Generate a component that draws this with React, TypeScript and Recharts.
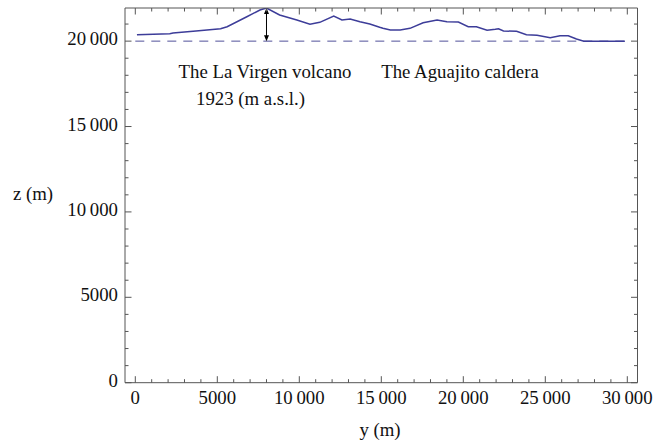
import React from "react";
import {
  LineChart,
  Line,
  XAxis,
  YAxis,
  ReferenceLine,
  Customized,
} from "recharts";

// Horizontal distance along the profile (m)
const yDistance = [
  100, 2100, 2300, 3700, 5200, 5600, 6800, 7600, 8000, 8800, 9850, 10650,
  11250, 12100, 12600, 13100, 13700, 14300, 14900, 15100, 15550, 16150, 16750,
  17550, 18400, 19000, 19700, 20300, 20800, 21450, 21950, 22150, 22450, 23250,
  23850, 24500, 25300, 25900, 26400, 26900, 27350, 29850,
];

// Elevation of the surface (m)
const zElevation = [
  20375, 20434, 20475, 20590, 20727, 20844, 21429, 21822, 21940, 21529, 21236,
  20985, 21102, 21471, 21236, 21295, 21137, 21002, 20809, 20750, 20651, 20651,
  20750, 21078, 21236, 21137, 21119, 20844, 20844, 20634, 20692, 20727, 20592,
  20575, 20375, 20340, 20200, 20317, 20317, 20124, 20000, 20000,
];

const baseLevel = 20000;
const summitY = 8000;
const summitZ = 21940;

const xTicks = Array.from({ length: 31 }, (_, i) => i * 1000);
const yTicks = Array.from({ length: 22 }, (_, i) => i * 1000);

const data = yDistance.map((y, i) => ({ y, z: zElevation[i] }));

const FONT = "'Liberation Serif', 'Times New Roman', serif";
const FONT_SIZE = 18.8;
const AXIS = "#555555";
const LINE = "#3d3d99";

const fmt = (v: number) =>
  v >= 10000 ? `${Math.floor(v / 1000)}\u2009${String(v % 1000).padStart(3, "0")}` : `${v}`;

const BottomTick = (props: any) => {
  const { x, y, payload } = props;
  const major = payload.value % 5000 === 0;
  return (
    <g>
      <line x1={x} y1={y} x2={x} y2={y - (major ? 6.5 : 3.5)} stroke={AXIS} strokeWidth={1} />
      {major && (
        <text x={x} y={y + 21} textAnchor="middle" fontFamily={FONT} fontSize={FONT_SIZE} fill="#111">
          {fmt(payload.value)}
        </text>
      )}
    </g>
  );
};

const TopTick = (props: any) => {
  const { x, y, payload } = props;
  const major = payload.value % 5000 === 0;
  return <line x1={x} y1={y} x2={x} y2={y + (major ? 6.5 : 3.5)} stroke={AXIS} strokeWidth={1} />;
};

const LeftTick = (props: any) => {
  const { x, y, payload } = props;
  const major = payload.value % 5000 === 0;
  return (
    <g>
      <line x1={x} y1={y} x2={x + (major ? 6.5 : 3.5)} y2={y} stroke={AXIS} strokeWidth={1} />
      {major && (
        <text x={x - 7} y={y + 4} textAnchor="end" fontFamily={FONT} fontSize={FONT_SIZE} fill="#111">
          {fmt(payload.value)}
        </text>
      )}
    </g>
  );
};

const RightTick = (props: any) => {
  const { x, y, payload } = props;
  const major = payload.value % 5000 === 0;
  return <line x1={x} y1={y} x2={x - (major ? 6.5 : 3.5)} y2={y} stroke={AXIS} strokeWidth={1} />;
};

// Double-headed arrow marking the summit height above the base level
const HeightArrow = (props: any) => {
  const { x1, y1, x2, y2 } = props;
  const top = Math.min(y1, y2);
  const bottom = Math.max(y1, y2);
  const x = x1;
  const hl = 6;
  const hw = 2.5;
  return (
    <g>
      <line x1={x} y1={top + 2} x2={x} y2={bottom - 2} stroke="#000" strokeWidth={1} />
      <polygon points={`${x},${top} ${x - hw},${top + hl} ${x + hw},${top + hl}`} fill="#000" />
      <polygon points={`${x},${bottom} ${x - hw},${bottom - hl} ${x + hw},${bottom - hl}`} fill="#000" />
    </g>
  );
};

const Annotations = () => (
  <g fontFamily={FONT} fontSize={FONT_SIZE} fill="#111">
    <text x={265} y={78} textAnchor="middle">The La Virgen volcano</text>
    <text x={250.5} y={104.5} textAnchor="middle">1923 (m a.s.l.)</text>
    <text x={460} y={78} textAnchor="middle">The Aguajito caldera</text>
    <text x={33} y={200} textAnchor="middle">z (m)</text>
    <text x={380} y={436} textAnchor="middle">y (m)</text>
  </g>
);

export default function App() {
  return (
    <div style={{ position: "absolute", left: 0, top: 0, background: "#fff" }}>
      <LineChart
        width={654}
        height={444}
        data={data}
        margin={{ top: 0, right: 6.5, bottom: 31.3, left: 65 }}
      >
        <XAxis
          dataKey="y"
          type="number"
          domain={[-628, 30622]}
          ticks={xTicks}
          interval={0}
          allowDataOverflow
          height={30}
          tickSize={0}
          tickMargin={0}
          tickLine={false}
          axisLine={{ stroke: AXIS, strokeWidth: 1 }}
          tick={<BottomTick />}
        />
        <XAxis
          xAxisId="top"
          orientation="top"
          dataKey="y"
          type="number"
          domain={[-628, 30622]}
          ticks={xTicks}
          interval={0}
          allowDataOverflow
          height={8}
          tickSize={0}
          tickMargin={0}
          tickLine={false}
          axisLine={{ stroke: AXIS, strokeWidth: 1 }}
          tick={<TopTick />}
        />
        <YAxis
          type="number"
          domain={[0, summitZ]}
          ticks={yTicks}
          interval={0}
          allowDataOverflow
          width={60}
          tickSize={0}
          tickMargin={0}
          tickLine={false}
          axisLine={{ stroke: AXIS, strokeWidth: 1 }}
          tick={<LeftTick />}
        />
        <YAxis
          yAxisId="right"
          orientation="right"
          type="number"
          domain={[0, summitZ]}
          ticks={yTicks}
          interval={0}
          allowDataOverflow
          width={10}
          tickSize={0}
          tickMargin={0}
          tickLine={false}
          axisLine={{ stroke: AXIS, strokeWidth: 1 }}
          tick={<RightTick />}
        />
        <ReferenceLine
          segment={[
            { x: 0, y: baseLevel },
            { x: 30000, y: baseLevel },
          ]}
          stroke="#50509a"
          strokeWidth={1}
          strokeDasharray="9 7"
          ifOverflow="visible"
        />
        <Line
          dataKey="z"
          type="linear"
          stroke={LINE}
          strokeWidth={1.5}
          dot={false}
          isAnimationActive={false}
        />
        <ReferenceLine
          segment={[
            { x: summitY, y: baseLevel },
            { x: summitY, y: summitZ },
          ]}
          shape={<HeightArrow />}
          ifOverflow="visible"
        />
        <Customized component={Annotations} />
      </LineChart>
    </div>
  );
}
